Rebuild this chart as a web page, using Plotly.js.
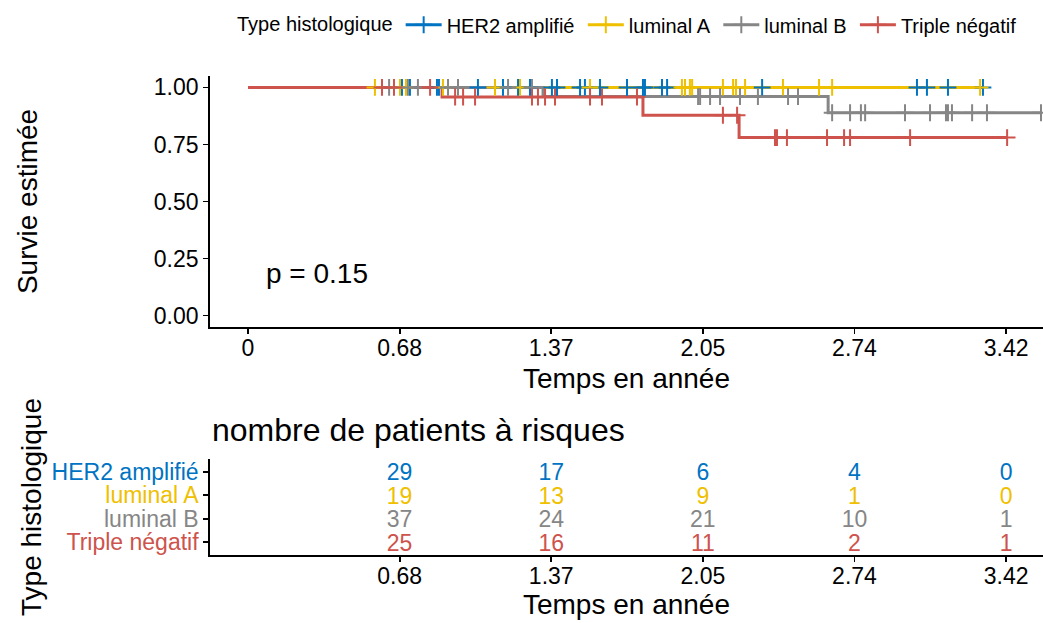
<!DOCTYPE html>
<html><head><meta charset="utf-8">
<script src="https://cdn.plot.ly/plotly-3.0.1.min.js"></script>
<style>html,body{margin:0;padding:0;background:#fff}#chart{width:1043px;height:623px}</style>
</head><body><div id="chart"></div>
<script>
// ---------- DATA ----------
const groups = ['HER2 amplifié', 'luminal A', 'luminal B', 'Triple négatif'];
const colors = ['#0073C2', '#EFC000', '#868686', '#CD534C'];

// Kaplan-Meier step curves (time in years, survival after that time)
const her2Times = [0, 3.318];
const her2Surv  = [1, 1];
const lumATimes = [0, 3.305];
const lumASurv  = [1, 1];
const lumBTimes = [0, 1.332, 2.619, 3.580];
const lumBSurv  = [1, 0.960, 0.889, 0.889];
const tnTimes   = [0, 0.876, 1.783, 2.217, 3.427];
const tnSurv    = [1, 0.958, 0.878, 0.780, 0.780];

// censoring times (years)
const her2Cens = [0.695, 0.731, 0.853, 0.862, 1.038, 1.151, 1.219, 1.273, 1.372, 1.395, 1.499, 1.521,
                  1.589, 1.711, 1.783, 1.792, 1.869, 1.892, 2.321, 3.020, 3.065, 3.160, 3.318];
const lumACens = [0.573, 0.686, 0.713, 0.880, 1.115, 1.228, 1.544, 1.959, 1.973, 1.995, 2.005, 2.144,
                  2.190, 2.203, 2.244, 2.415, 2.578, 2.637, 3.305];
const lumBCens = [0.637, 0.722, 0.767, 0.903, 0.948, 1.174, 1.282, 1.544, 2.032, 2.041, 2.086, 2.131,
                  2.221, 2.302, 2.438, 2.483, 2.637, 2.718, 2.767, 2.786, 2.966, 3.079, 3.151, 3.160,
                  3.178, 3.269, 3.336, 3.580];
const tnCens   = [0.605, 0.659, 0.822, 0.935, 0.971, 1.025, 1.282, 1.309, 1.341, 1.386, 1.544, 1.598,
                  1.756, 2.144, 2.208, 2.379, 2.388, 2.433, 2.614, 2.691, 2.718, 2.989, 3.427];

// risk table
const breakTimes  = [0, 0.6845, 1.3689, 2.0534, 2.7379, 3.4223];
const breakLabels = ['0', '0.68', '1.37', '2.05', '2.74', '3.42'];
const riskTimes   = [0.6845, 1.3689, 2.0534, 2.7379, 3.4223];
const riskLabels  = ['0.68', '1.37', '2.05', '2.74', '3.42'];
const her2Risk = [29, 17, 6, 4, 0];
const lumARisk = [19, 13, 9, 1, 0];
const lumBRisk = [37, 24, 21, 10, 1];
const tnRisk   = [25, 16, 11, 2, 1];
const pValueText = 'p = 0.15';

// ---------- BUILD ----------
const FONT = 'Liberation Sans, Arial, Helvetica, sans-serif';
const curves = [
  {t: her2Times, s: her2Surv, c: her2Cens, r: her2Risk},
  {t: lumATimes, s: lumASurv, c: lumACens, r: lumARisk},
  {t: lumBTimes, s: lumBSurv, c: lumBCens, r: lumBRisk},
  {t: tnTimes,   s: tnSurv,   c: tnCens,   r: tnRisk}
];
function survAt(times, surv, x) {
  let v = surv[0];
  for (let i = 0; i < times.length; i++) if (times[i] <= x) v = surv[i];
  return v;
}
const PAD = '\u2006';
const ROW_TEXT_SHIFT = -0.12; // optical centring of digits in the risk table rows
const traces = [];
// legend entries
curves.forEach((g, i) => {
  traces.push({
    x: [null], y: [null], type: 'scatter', mode: 'lines+markers',
    name: groups[i] + (i < curves.length - 1 ? PAD : ''),
    line: {color: colors[i], width: 3},
    marker: {symbol: 'cross-thin', size: 12, color: colors[i], line: {color: colors[i], width: 2}},
    showlegend: true, hoverinfo: 'skip', xaxis: 'x', yaxis: 'y'
  });
});
// step lines
curves.forEach((g, i) => {
  traces.push({
    x: g.t, y: g.s, type: 'scatter', mode: 'lines', line: {shape: 'hv', color: colors[i], width: 3},
    showlegend: false, hoverinfo: 'skip', xaxis: 'x', yaxis: 'y'
  });
});
// censor marks
curves.forEach((g, i) => {
  traces.push({
    x: g.c, y: g.c.map(v => survAt(g.t, g.s, v)), type: 'scatter', mode: 'markers',
    marker: {symbol: 'cross-thin', size: 12, color: colors[i], line: {color: colors[i], width: 2}},
    showlegend: false, hoverinfo: 'skip', xaxis: 'x', yaxis: 'y'
  });
});
// risk table numbers
curves.forEach((g, i) => {
  traces.push({
    x: riskTimes, y: riskTimes.map(() => 3 - i + ROW_TEXT_SHIFT), text: g.r.map(String), type: 'scatter', mode: 'text',
    textfont: {family: FONT, size: 23, color: colors[i]}, textposition: 'middle center',
    showlegend: false, hoverinfo: 'skip', xaxis: 'x2', yaxis: 'y2'
  });
});

const xr = [-0.1716, 3.589];
const axisCommon = {
  showgrid: false, zeroline: false, showline: true, linecolor: '#000', linewidth: 1.8,
  ticks: 'outside', ticklen: 5, tickwidth: 1.8, tickcolor: '#000',
  tickfont: {family: FONT, size: 23, color: '#000'}
};
const layout = {
  width: 1043, height: 623,
  margin: {l: 210, r: 0, t: 76, b: 68},
  paper_bgcolor: '#fff', plot_bgcolor: '#fff',
  font: {family: FONT, color: '#000'},
  showlegend: true,
  legend: {
    orientation: 'h', x: 0.030, xanchor: 'left', y: 1.107, yanchor: 'middle',
    font: {family: FONT, size: 20, color: '#000'},
    title: {text: 'Type histologique', side: 'left', font: {family: FONT, size: 20, color: '#000'}},
    itemwidth: 36, traceorder: 'normal', bgcolor: 'rgba(0,0,0,0)'
  },
  xaxis: Object.assign({}, axisCommon, {
    domain: [0, 1], anchor: 'y', range: xr, tickmode: 'array', tickvals: breakTimes, ticktext: breakLabels,
    ticklabelstandoff: -5,
    title: {text: 'Temps en année', font: {family: FONT, size: 28, color: '#000'}, standoff: 8}
  }),
  yaxis: Object.assign({}, axisCommon, {
    domain: [0.476, 1], anchor: 'x', range: [-0.05, 1.05], tickmode: 'array',
    tickvals: [0, 0.25, 0.5, 0.75, 1], ticktext: ['0.00', '0.25', '0.50', '0.75', '1.00'],
    title: {text: 'Survie estimée', font: {family: FONT, size: 28, color: '#000'}, standoff: 108}
  }),
  xaxis2: Object.assign({}, axisCommon, {
    domain: [0, 1], anchor: 'y2', range: xr, tickmode: 'array', tickvals: riskTimes, ticktext: riskLabels,
    ticklabelstandoff: -5,
    title: {text: 'Temps en année', font: {family: FONT, size: 28, color: '#000'}, standoff: 6}
  }),
  yaxis2: Object.assign({}, axisCommon, {
    domain: [0, 0.2004], anchor: 'x2', range: [-0.55, 3.55], tickmode: 'array',
    tickvals: [3, 2, 1, 0],
    ticktext: groups.map((g, i) => '<span style="color:' + colors[i] + '">' + g + '</span>'),
    title: {text: 'Type histologique', font: {family: FONT, size: 28, color: '#000'}, standoff: 2}
  }),
  annotations: [
    {text: pValueText, xref: 'x', yref: 'y', x: 0.072, y: 0.185, xanchor: 'left', yanchor: 'middle',
     showarrow: false, font: {family: FONT, size: 28, color: '#000'}},
    {text: 'nombre de patients à risques', xref: 'paper', yref: 'paper', x: 0, y: 0.261,
     xanchor: 'left', yanchor: 'middle', showarrow: false, font: {family: FONT, size: 32, color: '#000'}}
  ]
};
Plotly.newPlot('chart', traces, layout, {displayModeBar: false, staticPlot: true});
</script>
</body></html>
